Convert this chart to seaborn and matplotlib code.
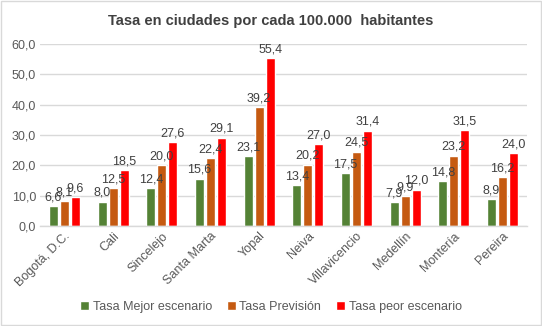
import matplotlib
matplotlib.use("Agg")
import matplotlib.pyplot as plt
import seaborn as sns
import pandas as pd
from matplotlib.patches import Rectangle

ciudades = ["Bogotá, D.C.", "Cali", "Sincelejo", "Santa Marta", "Yopal", "Neiva",
            "Villavicencio", "Medellín", "Montería", "Pereira"]
mejor = [6.6, 8.0, 12.4, 15.6, 23.1, 13.4, 17.5, 7.9, 14.8, 8.9]
prevision = [8.1, 12.5, 20.0, 22.4, 39.2, 20.2, 24.5, 9.9, 23.2, 16.2]
peor = [9.6, 18.5, 27.6, 29.1, 55.4, 27.0, 31.4, 12.0, 31.5, 24.0]
series = ["Tasa Mejor escenario", "Tasa Previsión", "Tasa peor escenario"]
colores = ["#548235", "#C55A11", "#FF0000"]
titulo = "Tasa en ciudades por cada 100.000  habitantes"

df = pd.DataFrame({
    "Ciudad": ciudades * 3,
    "Serie": [series[0]] * len(ciudades) + [series[1]] * len(ciudades) + [series[2]] * len(ciudades),
    "Valor": mejor + prevision + peor,
})

sns.set_theme(style="white")
plt.rcParams["font.family"] = ["Liberation Sans", "DejaVu Sans"]

fig = plt.figure(figsize=(5.42, 3.26), dpi=100)
ax = fig.add_axes([0.074, 0.307, 0.898, 0.558])
sns.barplot(data=df, x="Ciudad", y="Valor", hue="Serie", palette=colores,
            width=0.68, gap=0.18, ax=ax, legend=True, saturation=1)

for cont in ax.containers:
    ax.bar_label(cont, labels=[f"{v:.1f}".replace(".", ",") for v in cont.datavalues],
                 padding=2, fontsize=9, color="#404040")

ax.set_ylim(0, 60)
ax.set_yticks(range(0, 61, 10))
ax.set_yticklabels([f"{v},0" for v in range(0, 61, 10)], fontsize=9, color="#595959")
ax.set_xlim(-0.5, len(ciudades) - 0.5)
ax.set_xticks(range(len(ciudades)))
ax.set_xticklabels(ciudades, rotation=45, ha="right", rotation_mode="anchor",
                   fontsize=9, color="#595959")
ax.tick_params(axis="both", length=0, pad=3)
ax.set_xlabel("")
ax.set_ylabel("")
ax.yaxis.grid(True, color="#D9D9D9", linewidth=1)
ax.set_axisbelow(True)
for s in ["top", "right", "left"]:
    ax.spines[s].set_visible(False)
ax.spines["bottom"].set_color("#D9D9D9")
ax.spines["bottom"].set_linewidth(1)

handles, labels = ax.get_legend_handles_labels()
ax.legend(handles, labels, loc="center", bbox_to_anchor=(0.5, 0.058),
          bbox_transform=fig.transFigure, ncol=3, frameon=False, fontsize=9,
          handlelength=0.7, handleheight=0.7, handletextpad=0.3, columnspacing=1.2,
          labelcolor="#595959")

fig.text(0.5, 0.935, titulo, ha="center", va="center", fontsize=10.5,
         fontweight="bold", color="#404040")

fig.patches.append(Rectangle((0.001, 0.002), 0.997, 0.995, transform=fig.transFigure,
                             fill=False, edgecolor="#D9D9D9", linewidth=1))

fig.savefig("out.png", dpi=100)
